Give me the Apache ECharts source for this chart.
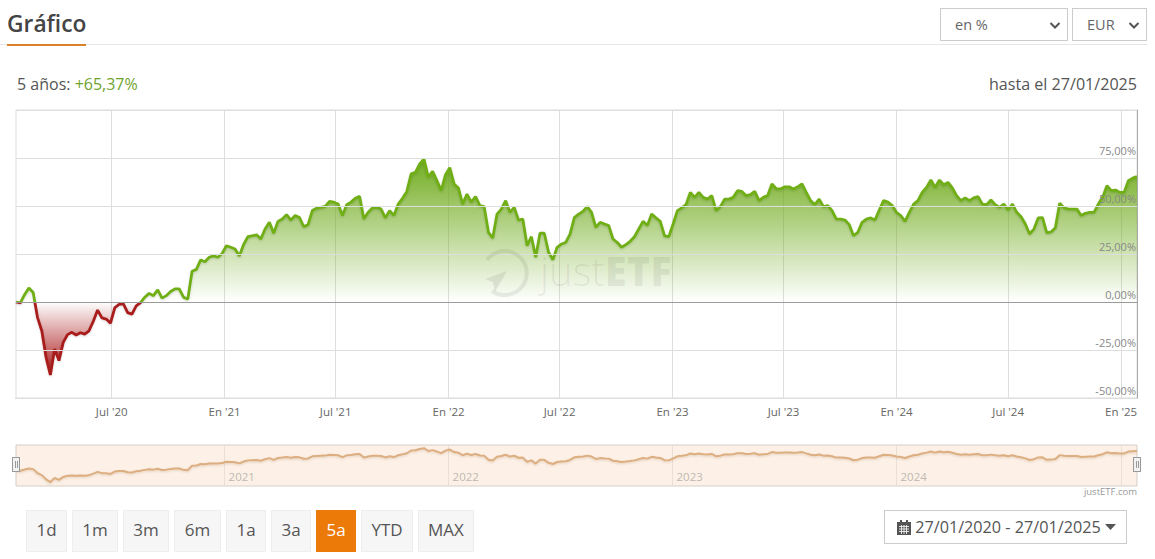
<!DOCTYPE html>
<html lang="es">
<head>
<meta charset="utf-8">
<title>Gráfico</title>
<script src="https://cdn.jsdelivr.net/npm/echarts@6/dist/echarts.min.js"></script>
<style>
html,body{margin:0;padding:0;background:#fff;width:1155px;height:559px;overflow:hidden;font-family:"Open Sans",sans-serif;color:#555}
#chart{position:absolute;left:0;top:0;width:1155px;height:559px}
.abs{position:absolute;box-sizing:border-box;white-space:nowrap}
.btn{top:510px;height:42px;line-height:38px;text-align:center;background:#f6f6f6;border:1px solid #eee;font-size:17px;color:#555}
.btn.on{background:#ec7a08;border-color:#ec7a08;color:#fff}
.sel{top:7.5px;height:33px;line-height:32px;background:#fff;border:1px solid #ccc;font-size:14.5px;color:#666;padding-left:14px}
.sel svg{position:absolute;right:6px;top:12px}
.handle{width:8px;height:15px;background:#f2f2f2;border:1px solid #999;top:457px}
.handle:after{content:"";position:absolute;left:2px;top:3px;width:1px;height:7px;border-left:1px solid #999;border-right:1px solid #999}
</style>
</head>
<body>
<div id="chart"></div>

<div class="abs" style="left:0;top:44px;width:1147px;height:1px;background:#e6e6e6"></div>
<div class="abs" style="left:7px;top:44px;width:79px;height:2px;background:#d9822b"></div>
<div class="abs" style="left:7px;top:7px;font-size:22.8px;font-weight:600;color:#444;line-height:34px">Gráfico</div>
<div class="abs sel" style="left:940px;width:128px">en %<svg width="12" height="9" viewBox="0 0 12 9"><path d="M1.5 2 L6 6.5 L10.5 2" fill="none" stroke="#555" stroke-width="2"/></svg></div>
<div class="abs sel" style="left:1072px;width:75px">EUR<svg width="12" height="9" viewBox="0 0 12 9"><path d="M1.5 2 L6 6.5 L10.5 2" fill="none" stroke="#555" stroke-width="2"/></svg></div>
<div class="abs" style="left:17px;top:73px;font-size:16px;line-height:22px;color:#555">5 años: <span style="color:#6ea32e">+65,37%</span></div>
<div class="abs" style="right:18px;top:73px;font-size:16.1px;line-height:22px;color:#555">hasta el 27/01/2025</div>

<svg class="abs" style="left:480px;top:248px;pointer-events:none" width="60" height="52" viewBox="0 0 60 52">
  <path d="M7 12 A22 22 0 1 1 12 43" fill="none" stroke="rgba(0,0,0,0.07)" stroke-width="4"/>
  <path d="M5 31 L27 23 L15 44 L13 34 Z" fill="rgba(0,0,0,0.08)"/>
</svg>
<div class="abs" style="left:540px;top:246px;font-size:40px;line-height:50px;font-weight:300;color:rgba(0,0,0,0.07);pointer-events:none">just<span style="font-weight:800">ETF</span></div>

<div class="abs handle" style="left:12px"></div>
<div class="abs handle" style="left:1133px"></div>
<div class="abs" style="right:18px;top:485px;font-size:9.5px;line-height:14px;color:#999">justETF.com</div>

<div class="abs btn" style="left:26px;width:41px">1d</div>
<div class="abs btn" style="left:72px;width:46px">1m</div>
<div class="abs btn" style="left:123px;width:46px">3m</div>
<div class="abs btn" style="left:174px;width:47px">6m</div>
<div class="abs btn" style="left:226px;width:40px">1a</div>
<div class="abs btn" style="left:271px;width:40px">3a</div>
<div class="abs btn on" style="left:316px;width:40px">5a</div>
<div class="abs btn" style="left:361px;width:52px">YTD</div>
<div class="abs btn" style="left:418px;width:56px">MAX</div>

<div class="abs" style="left:884px;top:510px;width:243px;height:34px;border:1px solid #ccc;background:#fff;line-height:33px;font-size:16.2px;color:#555;padding-left:12px">
<svg width="14" height="15" viewBox="0 0 14 15" style="vertical-align:-2px"><path d="M0 4 H14 V15 H0 Z M3 0 H5 V3 H3 Z M9 0 H11 V3 H9 Z M0 2 H14 V4 H0 Z" fill="#555"/><path d="M2 6.5H12M2 9H12M2 11.5H12M4.5 5V14M7 5V14M9.5 5V14" stroke="#fff" stroke-width="0.8"/></svg>
27/01/2020 - 27/01/2025 <svg width="11" height="7" viewBox="0 0 11 7" style="vertical-align:2px"><path d="M0 0 H11 L5.5 6 Z" fill="#555"/></svg>
</div>

<script>
// Weekly readings of the performance curve, in %, starting on startDate
const startDate = '2020-01-27';
const stepDays = 7;
const values = [
  0,-0.5,3.8,7.3,5,-8,-15,-28.8,-38,-24.5,-30.5,-21,-17,-15.8,-17.2,-16,-16.7,-15,-10,-4.2,
  -8.3,-8.9,-11,-3,-1.2,-1,-5.5,-6.3,-2,-0.3,2.5,4.5,3.3,6.3,2,3.3,5.5,6.8,6.8,2.5,
  1.5,16,17,21.9,21,23.3,24,23.3,25.3,29.3,28.5,27.6,24,30,34,34.5,35,32.8,38,41.5,
  35.8,42,43.2,45.5,42.7,45,44,39.2,40.3,47.6,48.8,49.3,49.8,52.4,52,51,45,50.7,52,54,
  55,43.2,46.7,49,49.3,48.4,43.8,47.6,45,51,54,57.6,66.7,67.5,71.9,74.5,65,68,63.2,58,
  66.3,70,61.5,59.4,51,56.2,52,54.9,50.2,49.7,36.3,33.3,45.8,48.4,52.8,46.7,49.3,42.7,43.2,29.3,
  34,23.3,35.8,35.8,25.9,22,28.5,30.2,31,35.4,44,45.8,47.2,49.7,46.7,38.9,41.5,40.6,39.8,32.8,
  31,28.5,29.9,31.6,34,38,42,39.8,45.8,43.8,42,34.5,34,40.6,47.6,49,50.7,57.1,54.5,57.1,
  54.5,53.6,55.4,47.6,49.7,53.6,53.6,54.5,58,57.6,55.4,55.9,57.6,52.8,54.5,55.4,61.5,59,58.9,60,
  60,58.9,60,61.5,57.1,52.8,50.7,53.6,49.7,50.2,47.6,43.2,43.2,42.7,40.3,34.5,36.3,41.5,43.2,43.8,
  42.7,47.9,52.8,52,50.2,46.7,45,42,46.7,51,52.8,57.1,59.7,63.5,59.7,63.5,61.1,62.3,59.4,55.4,
  52.8,54.2,52.8,54.2,54.9,51,50.7,53.1,50.7,49.3,51,47.9,51,46.7,44.4,40.6,35.4,38,43.8,44,
  36,36.5,38.7,51.4,49,48.4,48.4,48.4,45,46.2,46.7,46.7,51,54.5,60.6,58,58.3,57.1,57.1,63.2,
  64.5,65.37
];
const tickDates = ['2020-07-01','2021-01-01','2021-07-01','2022-01-01','2022-07-01','2023-01-01','2023-07-01','2024-01-01','2024-07-01','2025-01-01'];
const tickLabels = ["Jul '20","En '21","Jul '21","En '22","Jul '22","En '23","Jul '23","En '24","Jul '24","En '25"];
const navTickDates = ['2021-01-01','2022-01-01','2023-01-01','2024-01-01','2025-01-01'];
const navTickLabels = ['2021','2022','2023','2024',''];
const yMin = -50, yMax = 100, yStep = 25;

const stamp = s => new Date(s + 'T00:00:00Z').getTime();
const DAY = 86400000;
const t0 = stamp(startDate);
const points = values.map((v, i) => [t0 + i * stepDays * DAY, v]);
const tEnd = points[points.length - 1][0];
const tickStamps = tickDates.map(stamp);
const navTickStamps = navTickDates.map(stamp);
const top_ = Math.max(...values), bot_ = Math.min(...values);
const zeroAt = top_ / (top_ - bot_);
const lineWidth = 2.8;

const chart = echarts.init(document.getElementById('chart'), null, {renderer: 'svg'});
chart.setOption({
  animation: false,
  backgroundColor: 'transparent',
  grid: [
    {left: 16, right: 18, top: 110, height: 288, show: true, borderColor: '#dddddd', borderWidth: 1, backgroundColor: 'transparent'},
    {left: 16, right: 18, top: 445, height: 41, show: true, borderColor: '#d5cdc5', borderWidth: 1, backgroundColor: '#fdf1e7'}
  ],
  xAxis: [
    {
      type: 'value', gridIndex: 0, min: t0, max: tEnd, scale: true,
      axisLine: {show: true, onZero: false, lineStyle: {color: '#aaaaaa', width: 1}},
      axisTick: {show: false, customValues: tickStamps},
      splitLine: {show: true, lineStyle: {color: '#dedede', width: 1}},
      axisLabel: {
        customValues: tickStamps, hideOverlap: false,
        margin: 7, color: '#666', fontSize: 11.5, fontFamily: 'Open Sans',
        formatter: v => tickLabels[tickStamps.indexOf(v)]
      }
    },
    {
      type: 'value', gridIndex: 1, min: t0, max: tEnd, scale: true,
      axisLine: {show: false, onZero: false},
      axisTick: {show: false, customValues: navTickStamps},
      splitLine: {show: true, lineStyle: {color: '#e9dfd3', width: 1}},
      axisLabel: {
        customValues: navTickStamps, inside: true, align: 'left', margin: 4, padding: [0, 0, 0, 4],
        color: '#bdb8b2', fontSize: 11.5, fontFamily: 'Open Sans',
        formatter: v => navTickLabels[navTickStamps.indexOf(v)]
      }
    }
  ],
  yAxis: [
    {
      type: 'value', gridIndex: 0, position: 'right', min: yMin, max: yMax, interval: yStep,
      axisLine: {show: true, lineStyle: {color: '#aaaaaa', width: 1}},
      axisTick: {show: false},
      splitLine: {show: true, lineStyle: {color: '#dedede', width: 1}},
      axisLabel: {
        inside: true, margin: 1, verticalAlign: 'bottom', padding: [0, 0, 2, 0], color: '#888', fontSize: 11, fontFamily: 'Open Sans',
        formatter: v => v === yMax ? '' : v.toFixed(2).replace('.', ',') + '%'
      },
      z: 5
    },
    {type: 'value', gridIndex: 1, min: -51, max: 85, show: false, splitLine: {show: false}}
  ],
  visualMap: {
    show: false, seriesIndex: 0, dimension: 1,
    pieces: [{gte: yMin, lte: 0, color: '#a81c1c'}, {gt: 0, lte: yMax, color: '#70ae18'}]
  },
  series: [
    {
      type: 'line', xAxisIndex: 0, yAxisIndex: 0, data: points, symbol: 'none', silent: true,
      lineStyle: {width: lineWidth, shadowColor: 'rgba(0,0,0,0.15)', shadowBlur: 2, shadowOffsetY: 1},
      areaStyle: {
        origin: 0, opacity: 1,
        color: new echarts.graphic.LinearGradient(0, 0, 0, 1, [
          {offset: 0, color: 'rgba(106,168,20,0.95)'},
          {offset: zeroAt, color: 'rgba(106,168,20,0)'},
          {offset: zeroAt, color: 'rgba(170,25,25,0)'},
          {offset: 1, color: 'rgba(170,25,25,1)'}
        ])
      },
      markLine: {
        silent: true, symbol: 'none', label: {show: false},
        lineStyle: {color: '#9a9a9a', width: 1, type: 'solid'},
        data: [{yAxis: 0}]
      }
    },
    {
      type: 'line', xAxisIndex: 1, yAxisIndex: 1, data: points, symbol: 'none', silent: true,
      lineStyle: {width: 2, color: '#dcae80', shadowColor: 'rgba(120,70,20,0.2)', shadowBlur: 2, shadowOffsetY: 1}
    }
  ]
});
</script>
</body>
</html>
